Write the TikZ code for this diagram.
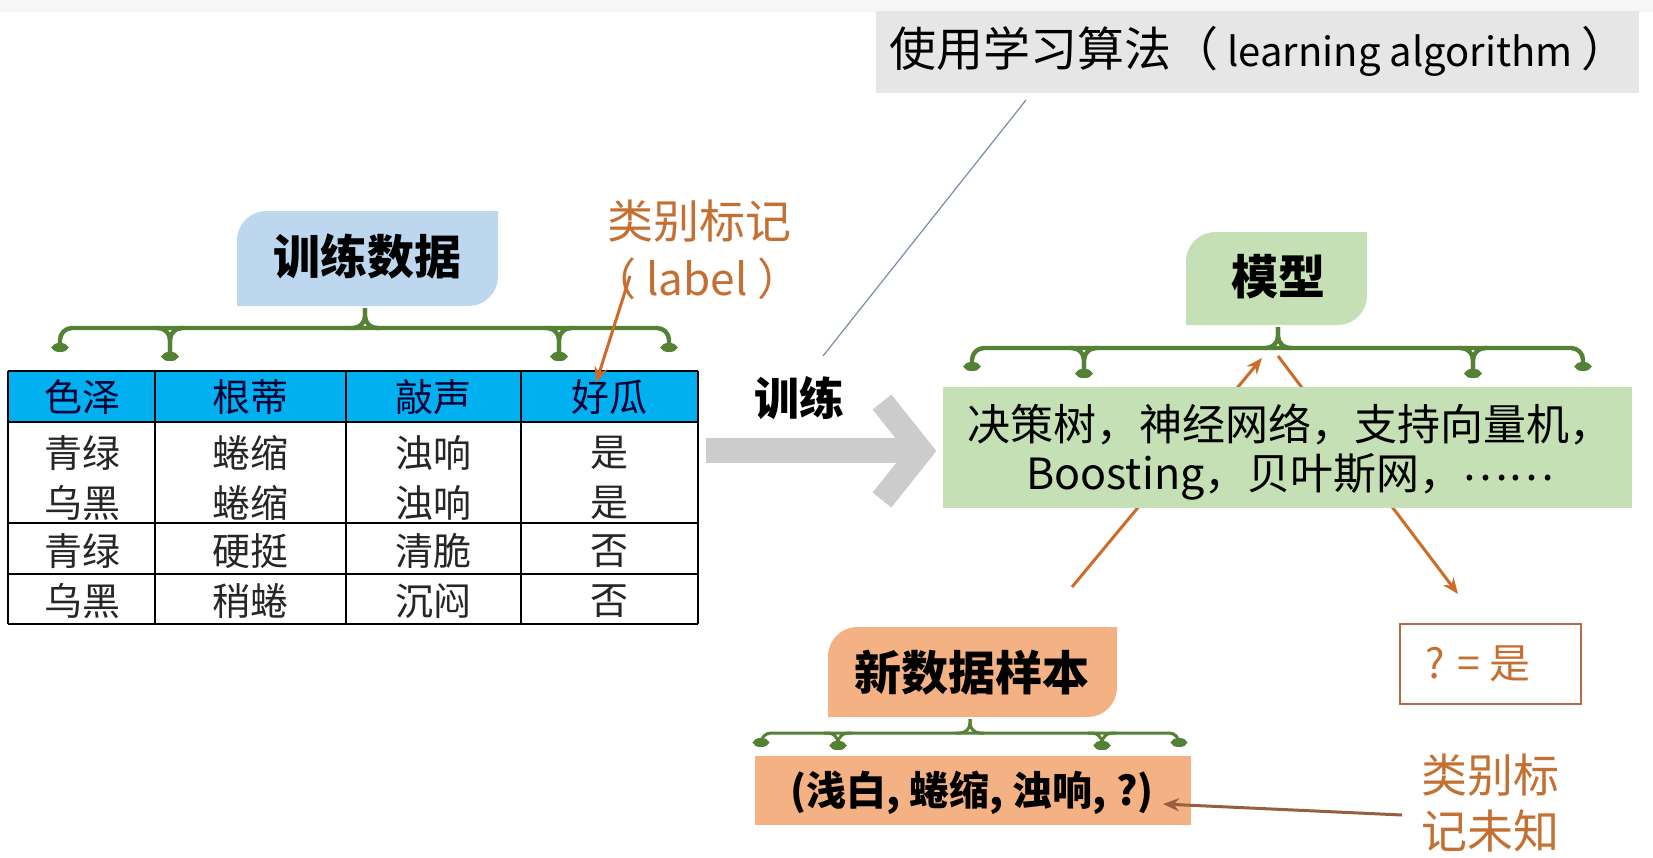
\documentclass[tikz,border=0pt]{standalone}
\usepackage{fontspec}
\setmainfont{Noto Sans CJK SC}
\usetikzlibrary{arrows.meta}
\definecolor{brkgreen}{RGB}{84,130,53}
\definecolor{bluebox}{RGB}{189,215,238}
\definecolor{greenbox}{RGB}{197,224,180}
\definecolor{orangebox}{RGB}{244,177,131}
\definecolor{alggray}{RGB}{230,230,230}
\definecolor{ortext}{RGB}{196,112,50}
\definecolor{orline}{RGB}{205,108,40}
\definecolor{brline}{RGB}{150,95,65}
\definecolor{resborder}{RGB}{178,108,72}
\definecolor{headcyan}{RGB}{0,176,240}
\definecolor{thinline}{RGB}{120,140,170}
\newcommand\fhead{\fontsize{23.5}{28}\selectfont\bfseries}
\newcommand\fcell{\fontsize{19}{22}\selectfont}
\newcommand\leafbox[5]{\fill[#5] (#1,#4) -- (#1,#2+30) .. controls (#1,#2+13) and (#1+13,#2) .. (#1+30,#2) -- (#3,#2) -- (#3,#4-30) .. controls (#3,#4-13) and (#3-13,#4) .. (#3-30,#4) -- cycle;}
\newcommand\brk[9]{%
  \draw[brkcur,brktip-brktip] (#4,#8) -- (#4,#3) -- (#7,#3) -- (#7,#8);
  \draw[brkcur] (#1-14,#3) -- (#1,#3) -- (#1,#2);
  \draw[brkcur] (#1+14,#3) -- (#1,#3) -- (#1,#2);
  \draw[brkcur,-brktip] (#5-14,#3) -- (#5,#3) -- (#5,#9);
  \draw[brkcur,-brktip] (#5+14,#3) -- (#5,#3) -- (#5,#9);
  \draw[brkcur,-brktip] (#6-14,#3) -- (#6,#3) -- (#6,#9);
  \draw[brkcur,-brktip] (#6+14,#3) -- (#6,#3) -- (#6,#9);}
\begin{document}
\begin{tikzpicture}[x=0.5pt,y=-0.5pt,
  brk/.style={draw=brkgreen,line width=2.2pt,rounded corners=6pt},
  brkthin/.style={draw=brkgreen,line width=1.5pt,rounded corners=5pt},
  brkcur/.style={brk},
  brktip/.tip={Circle[length=4.5pt,width=8pt]},
  oarrow/.style={draw=orline,line width=1.5pt,-{Stealth[length=8pt,width=6.5pt]}},
  cell/.style={inner sep=0pt,font=\fcell,text=black!85},
  hcell/.style={inner sep=0pt,font=\fcell,text=black!80!blue},
  tline/.style={draw=black,line width=1.2pt},
  headtxt/.style={inner sep=0pt,font=\fhead,text=black}]
\useasboundingbox (0,0) rectangle (1653,857);
\fill[white] (0,0) rectangle (1653,857);
\fill[gray!7] (0,0) rectangle (1653,12);

% algorithm box
\fill[alggray] (876,11) rectangle (1639,93);
\node[inner sep=0pt,font=\fontsize{23.5}{28}\selectfont] (alg) at (1259,51) {使用学习算法（{\fontsize{20}{24}\selectfont\ learning algorithm\ }）};
\coordinate (algfoot) at (1026,100);
\coordinate (trainhead) at (823,356);
\draw[thinline,line width=0.6pt] (algfoot) -- (trainhead);

% training data box
\leafbox{237}{211}{498}{306}{bluebox}
\node[headtxt] (td) at (367,256) {训练数据};
\tikzset{brkcur/.style={brk}}
\brk{365}{308}{328}{60}{170}{559}{669}{352}{361}

% table
\fill[headcyan] (8,371) rectangle (698,422);
\foreach \yy in {371,422,523,574,624} \draw[tline] (8,\yy) -- (698,\yy);
\foreach \xx in {8,155,346,521,698} \draw[tline] (\xx,371) -- (\xx,624);
\node[hcell] (h1) at (82,397) {色泽};
\node[hcell] (h2) at (250,397) {根蒂};
\node[hcell] (h3) at (433,397) {敲声};
\node[hcell] (h4) at (609,397) {好瓜};
\node[cell] (a1) at (82,453) {青绿};
\node[cell] (a2) at (250,453) {蜷缩};
\node[cell] (a3) at (433,453) {浊响};
\node[cell] (a4) at (609,453) {是};
\node[cell] (b1) at (82,503) {乌黑};
\node[cell] (b2) at (250,503) {蜷缩};
\node[cell] (b3) at (433,503) {浊响};
\node[cell] (b4) at (609,503) {是};
\node[cell] (c1) at (82,551) {青绿};
\node[cell] (c2) at (250,551) {硬挺};
\node[cell] (c3) at (433,551) {清脆};
\node[cell] (c4) at (609,551) {否};
\node[cell] (d1) at (82,601) {乌黑};
\node[cell] (d2) at (250,601) {稍蜷};
\node[cell] (d3) at (433,601) {沉闷};
\node[cell] (d4) at (609,601) {否};

% label annotation
\node[inner sep=0pt,font=\fontsize{23}{27}\selectfont,text=ortext] (lab1) at (699,221) {类别标记};
\node[inner sep=0pt,font=\fontsize{22}{26}\selectfont,text=ortext] (lab2) at (697,279) {（ label ）};
\coordinate (labfoot) at (630,276);
\coordinate (labtip) at (596,383);
\draw[oarrow] (labfoot) -- (labtip);

% training arrow
\node[inner sep=0pt,font=\fontsize{22.5}{27}\selectfont\bfseries] (train) at (799,398) {训练};
\fill[gray!40] (706,438) rectangle (905,463);
\draw[gray!40,line width=12pt,miter limit=10] (882,402) -- (921,451) -- (882,500);

% model box
\leafbox{1186}{232}{1367}{325}{greenbox}
\node[headtxt] (model) at (1278,277) {模型};
\tikzset{brkcur/.style={brk}}
\brk{1278}{327}{348}{972}{1084}{1473}{1583}{371}{378}

% orange arrows through list box
\coordinate (nsA) at (1072,587);
\coordinate (mdA) at (1262,358);
\coordinate (mdB) at (1278,356);
\coordinate (resA) at (1458,594);
\draw[oarrow] (nsA) -- (mdA);
\draw[oarrow] (mdB) -- (resA);

% model list box
\fill[greenbox] (943,387) rectangle (1632,508);
\node[inner sep=0pt,align=center,font=\fontsize{21.5}{24.5}\selectfont] (mlist) at (1290,452) {决策树，神经网络，支持向量机，\\Boosting，贝叶斯网，\raisebox{0.22em}{……}};

% result box
\draw[resborder,line width=1.1pt] (1400,624) rectangle (1581,704);
\node[inner sep=0pt,font=\fontsize{20.5}{24}\selectfont,text=ortext] (res) at (1478,664) {? = 是};

% new data box
\leafbox{828}{627}{1117}{717}{orangebox}
\node[headtxt] (newd) at (972,673) {新数据样本};
\tikzset{brkcur/.style={brkthin}}
\brk{970}{719}{733}{761}{838}{1102}{1179}{747}{750}
\fill[orangebox] (755,756) rectangle (1191,825);
\node[inner sep=0pt,font=\fontsize{20}{24}\selectfont\bfseries] (sample) at (972,793) {(浅白, 蜷缩, 浊响, ?)};

% unknown label
\node[inner sep=0pt,align=center,font=\fontsize{23}{28}\selectfont,text=ortext] (unk) at (1490,803) {类别标\\记未知};
\coordinate (unkfoot) at (1402,815);
\coordinate (samptip) at (1163,804);
\draw[draw=brline,line width=1.5pt,-{Stealth[length=8pt,width=6.5pt,fill=orline]}] (unkfoot) -- (samptip);
\end{tikzpicture}
\end{document}
